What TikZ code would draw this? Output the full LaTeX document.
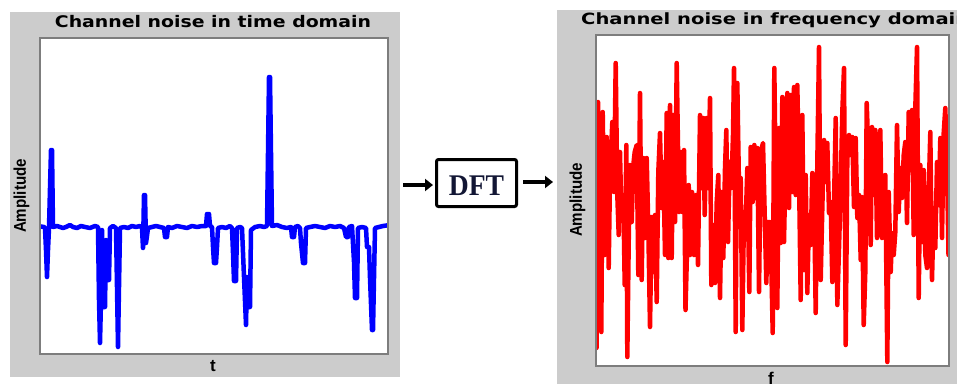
\documentclass[tikz,border=0pt]{standalone}
\usepackage{fontspec}
\setmainfont{Liberation Sans}
\newfontfamily\titlefont{DejaVu Sans}
\newfontfamily\serifbold{Liberation Serif}
\usetikzlibrary{arrows.meta}
\definecolor{panelgray}{RGB}{204,204,204}
\definecolor{framegray}{RGB}{125,125,125}
\definecolor{dftink}{RGB}{18,22,52}
\definecolor{sigblue}{RGB}{0,0,255}
\definecolor{sigred}{RGB}{255,0,0}

\begin{document}
\begin{tikzpicture}[x=1pt,y=-1pt,
  panel/.style={fill=panelgray,draw=none,inner sep=0pt,outer sep=0pt},
  plotframe/.style={fill=white,inner sep=0pt,outer sep=0pt},
  frameline/.style={draw=framegray,line width=1.4pt},
  trace/.style={line width=4.5pt,line join=round,line cap=round},
  titletext/.style={inner sep=0pt,anchor=base,font=\titlefont\bfseries\fontsize{16}{16}\selectfont},
  axistext/.style={inner sep=0pt,font=\bfseries\fontsize{17}{17}\selectfont},
  blockbox/.style={draw=black,line width=3pt,rounded corners=2pt,fill=white,
    minimum width=80pt,minimum height=47pt,inner sep=0pt,
    text height=24pt,text depth=0pt,text=dftink,
    font=\serifbold\bfseries\fontsize{30}{30}\selectfont},
  flowarrow/.style={line width=4.5pt,-{Triangle[length=8pt,width=12pt]}}]

\clip (0,0) rectangle (957,383);
\fill[white] (0,0) rectangle (957,383);

% ---------- time-domain panel ----------
\node[panel,minimum width=390pt,minimum height=365pt] (lp) at (205,194.5) {};
\node[plotframe,minimum width=348pt,minimum height=316pt] (lplot) at (214,196) {};
\begin{scope}
  \clip (lplot.south west) rectangle (lplot.north east);
  \draw[trace,sigblue] plot coordinates {
    (38,226) (44,227) (45,228) (46,250) (47,277) (48,250) (49,228) (50,188)
    (51,150) (52,150) (53,227) (57,226) (60,227) (63,228) (66,227) (70,225)
    (73,227) (77,228) (81,226) (85,227) (90,228) (95,226) (98,227) (99,300)
    (100,343) (101,300) (102,230) (103,307) (105,307) (106,240) (107,280)
    (109,280) (110,228) (113,226) (116,228) (117,287) (118,347) (119,287)
    (120,228) (124,227) (128,228) (132,226) (136,227) (140,226) (142,228)
    (143,248) (144,195) (145,195) (146,243) (147,236) (148,228) (152,227)
    (156,226) (160,227) (164,228) (165,237) (167,237) (168,227) (172,228)
    (177,226) (182,227) (187,228) (192,226) (197,227) (202,226) (206,226)
    (207,214) (209,214) (210,226) (212,227) (213,247) (214,263) (216,263)
    (217,247) (218,228) (222,227) (226,228) (230,226) (232,228) (233,253)
    (234,281) (236,281) (237,228) (240,227) (242,228) (244,277) (246,325)
    (247,277) (248,307) (250,307) (251,230) (255,227) (260,226) (264,227)
    (267,226) (268,153) (269,77) (270,77) (271,153) (272,226) (277,225)
    (282,227) (287,228) (291,227) (292,237) (294,237) (295,227) (298,226)
    (300,228) (301,243) (303,263) (305,263) (306,228) (310,227) (315,226)
    (320,227) (325,228) (330,226) (335,227) (340,226) (344,228) (346,237)
    (348,237) (349,227) (352,226) (354,262) (355,298) (357,298) (358,228)
    (362,227) (366,228) (367,247) (369,247) (370,278) (372,330) (373,330)
    (374,278) (375,228) (379,227) (383,226) (390,225)};
\end{scope}
\draw[frameline] (lplot.south west) rectangle (lplot.north east);

\node[titletext] (ltitle) at (213,27) {\scalebox{1.18}[1]{Channel noise in time domain}};
\node[axistext,rotate=90] (lylabel) at (21.5,196) {\scalebox{0.89}[1]{Amplitude}};
\node[axistext,anchor=base] (lxlabel) at (213,371) {t};

% ---------- DFT block ----------
\node[blockbox] (dft) at (476.5,183) {\scalebox{0.92}[1]{DFT}};
\coordinate (inl) at (403,185);
\coordinate (outr) at (553,182);
\draw[flowarrow,shorten >=2pt] (inl) -- (inl -| dft.west);
\draw[flowarrow,shorten <=5pt] (dft.east |- outr) -- (outr);

% ---------- frequency-domain panel ----------
\node[panel,minimum width=403pt,minimum height=376pt] (rp) at (758.5,198) {};
\node[plotframe,minimum width=353pt,minimum height=331pt] (rplot) at (772.5,200.5) {};
\begin{scope}
  \clip (rplot.south west) rectangle (rplot.north east);
  \draw[trace,sigred] plot coordinates {
    (596.5,348) (597,187) (598,102) (600,272) (601.3,332) (602.7,112)
    (604.7,255) (606.7,137) (608.7,268) (610,175) (612.3,122) (614,192)
    (615.7,63) (617.3,195) (618.7,235) (620,152) (621.3,212) (623.3,195)
    (624.7,285) (626.3,145) (627.3,357) (628.7,242) (630,165) (631.7,222)
    (633.3,165) (634.7,152) (636.7,145) (638.3,275) (640,93) (641.7,280)
    (643.3,158) (645,238) (646.7,158) (648.3,228) (650,327) (651.7,217)
    (653.3,272) (655,215) (656.7,302) (658.3,172) (660,133) (661.7,208)
    (663.3,162) (665,255) (666.7,113) (668.3,258) (670,105) (671.7,258)
    (673.3,115) (675,222) (676.7,63) (679,212) (680.7,152) (682.3,212)
    (684,150) (685.5,310) (688.7,185) (690,255) (692,192) (694,255)
    (696,195) (698,265) (700,115) (702,188) (703.3,118) (704.7,215)
    (706.7,118) (708,188) (710,98) (711.3,285) (713.3,225) (715,283)
    (716.7,202) (718.3,175) (720,298) (721.7,192) (723.3,258) (725,168)
    (726.3,130) (728,242) (729.7,162) (731.3,188) (733,135) (734,68)
    (735.7,332) (737.3,83) (739,188) (740.7,178) (742.3,330) (744,212)
    (745.7,222) (747.3,168) (749.3,292) (750.7,147) (752.7,202) (754.3,145)
    (756,198) (757.3,148) (759,292) (760.7,152) (763,143) (764.7,215)
    (766.3,283) (768,222) (769.7,222) (771.3,265) (772.7,333) (774.3,68)
    (777.3,308) (779,128) (780.7,243) (782.3,97) (784,242) (785.7,155)
    (787.3,93) (789,208) (790.7,95) (792.3,192) (794,87) (795.7,195)
    (797.3,85) (799,175) (800.7,300) (802.3,115) (804,270) (805.7,175)
    (807.3,293) (809,215) (810.7,245) (812.3,173) (814,195) (815.7,313)
    (817.3,163) (819,47) (820.7,280) (822.3,208) (824,140) (825.7,182)
    (827.3,143) (829,213) (830.7,202) (832.3,282) (834,203) (835.7,118)
    (837.3,305) (839,248) (840.7,187) (842.3,112) (844,68) (845.7,345)
    (847.3,160) (849,135) (850.7,155) (852.3,137) (854,207) (855.7,138)
    (857.3,218) (859,195) (860.7,260) (862,197) (863.7,325) (865.3,272)
    (866.7,103) (868.7,162) (870.7,245) (872,127) (874,195) (875.3,130)
    (877,238) (878.7,175) (880.3,130) (882,238) (883.7,215) (885.3,175)
    (887.3,362) (888.7,192) (890.7,272) (892,233) (893.7,255) (895.3,232)
    (897,125) (898.7,212) (900.3,168) (902,198) (903.7,155) (905.3,142)
    (907,223) (908.7,112) (910.3,170) (912,110) (913.7,235) (915.3,108)
    (917,47) (918.7,298) (920.3,165) (922,242) (923.7,170) (925.3,255)
    (927,268) (928.7,192) (930.3,132) (932,280) (933.7,208) (935.3,248)
    (937,162) (938.7,205) (940.3,138) (942,238) (943.7,133) (945.3,108)
    (947,168) (948.5,255)};
\end{scope}
\draw[frameline] (rplot.south west) rectangle (rplot.north east);

% the heading runs past the right edge of the picture and is cut there
\node[titletext,anchor=base west,font=\titlefont\bfseries\fontsize{15.5}{15.5}\selectfont]
  (rtitle) at (581,24) {\scalebox{1.26}[1]{Channel noise in frequency domain}};
\node[axistext,rotate=90] (rylabel) at (577.5,200) {\scalebox{0.89}[1]{Amplitude}};
\node[axistext,anchor=base] (rxlabel) at (771,384) {f};
\end{tikzpicture}
\end{document}
